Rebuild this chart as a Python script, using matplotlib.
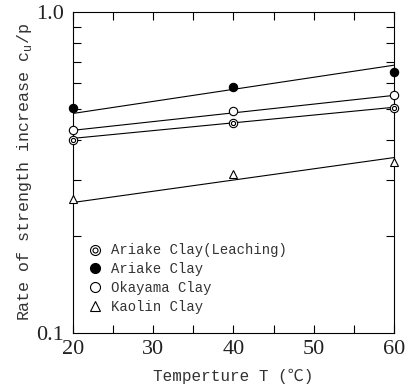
import matplotlib
matplotlib.use('Agg')
import matplotlib.pyplot as plt
from matplotlib.legend_handler import HandlerTuple
from matplotlib.ticker import FixedLocator, NullFormatter, FixedFormatter

# data
temp = [20, 40, 60]
leach = [0.398, 0.450, 0.501]      # Ariake Clay (Leaching)
ariake = [0.501, 0.583, 0.649]     # Ariake Clay
okayama = [0.428, 0.491, 0.550]    # Okayama Clay
kaolin = [0.262, 0.314, 0.342]     # Kaolin Clay

# fitted lines (values at T=20 and T=60)
line_t = [20, 60]
leach_fit = [0.404, 0.505]
ariake_fit = [0.483, 0.683]
okayama_fit = [0.428, 0.550]
kaolin_fit = [0.255, 0.352]

labels = ['Ariake Clay(Leaching)', 'Ariake Clay', 'Okayama Clay', 'Kaolin Clay']

mono = ['Liberation Mono', 'Noto Sans CJK SC']
serif = 'Liberation Serif'

fig = plt.figure(figsize=(4.12, 3.89), dpi=100)
ax = fig.add_axes([0.1765, 0.144, 0.7798, 0.825])

lw = 0.8
for y in [leach_fit, ariake_fit, okayama_fit, kaolin_fit]:
    ax.plot(line_t, y, color='black', lw=lw, zorder=2)

ms = 6
kw = dict(ls='none', clip_on=False, zorder=3)
h1a, = ax.plot(temp, leach, marker='o', ms=ms, mfc='white', mec='black', mew=0.8, **kw)
h1b, = ax.plot(temp, leach, marker='o', ms=3, mfc='none', mec='black', mew=0.8, **kw)
h2, = ax.plot(temp, ariake, marker='o', ms=ms, mfc='black', mec='black', mew=0.8, **kw)
h3, = ax.plot(temp, okayama, marker='o', ms=ms, mfc='white', mec='black', mew=0.8, **kw)
h4, = ax.plot(temp, kaolin, marker='^', ms=5.5, mfc='white', mec='black', mew=0.8, **kw)

ax.set_yscale('log')
ax.set_xlim(20, 60)
ax.set_ylim(0.1, 1.0)

ax.xaxis.set_major_locator(FixedLocator([20, 30, 40, 50, 60]))
ax.xaxis.set_minor_locator(FixedLocator([25, 35, 45, 55]))
ax.yaxis.set_major_locator(FixedLocator([0.1, 1.0]))
ax.yaxis.set_major_formatter(FixedFormatter(['0.1', '1.0']))
ax.yaxis.set_minor_locator(FixedLocator([0.2, 0.3, 0.4, 0.5, 0.6, 0.7, 0.8, 0.9]))
ax.yaxis.set_minor_formatter(NullFormatter())

ax.tick_params(which='both', direction='in', top=True, right=True,
               length=6, width=0.8, color='black')
ax.tick_params(axis='x', which='major', pad=5)
ax.tick_params(axis='y', which='major', pad=6, length=0)
for lab in ax.get_xticklabels() + ax.get_yticklabels():
    lab.set_fontfamily(serif)
    lab.set_fontsize(16)
    lab.set_color('#222222')

for s in ax.spines.values():
    s.set_linewidth(0.8)

ax.set_xlabel('Temperture T (℃)', family=mono, fontsize=11.5, color='#333333', labelpad=7)
ax.set_ylabel('Rate of strength increase c$_\\mathregular{u}$/p', family=mono, fontsize=12,
              color='#333333', labelpad=2)

leg = ax.legend([(h1a, h1b), h2, h3, h4], labels,
                handler_map={tuple: HandlerTuple(ndivide=1, pad=0)},
                loc='lower left', bbox_to_anchor=(0.01, 0.02), frameon=False,
                prop={'family': mono, 'size': 10}, handlelength=1.0, markerscale=1.2,
                handletextpad=0.6, labelspacing=0.35, borderaxespad=0.5)
for t in leg.get_texts():
    t.set_color('#333333')

fig.savefig('out.png', dpi=100)
